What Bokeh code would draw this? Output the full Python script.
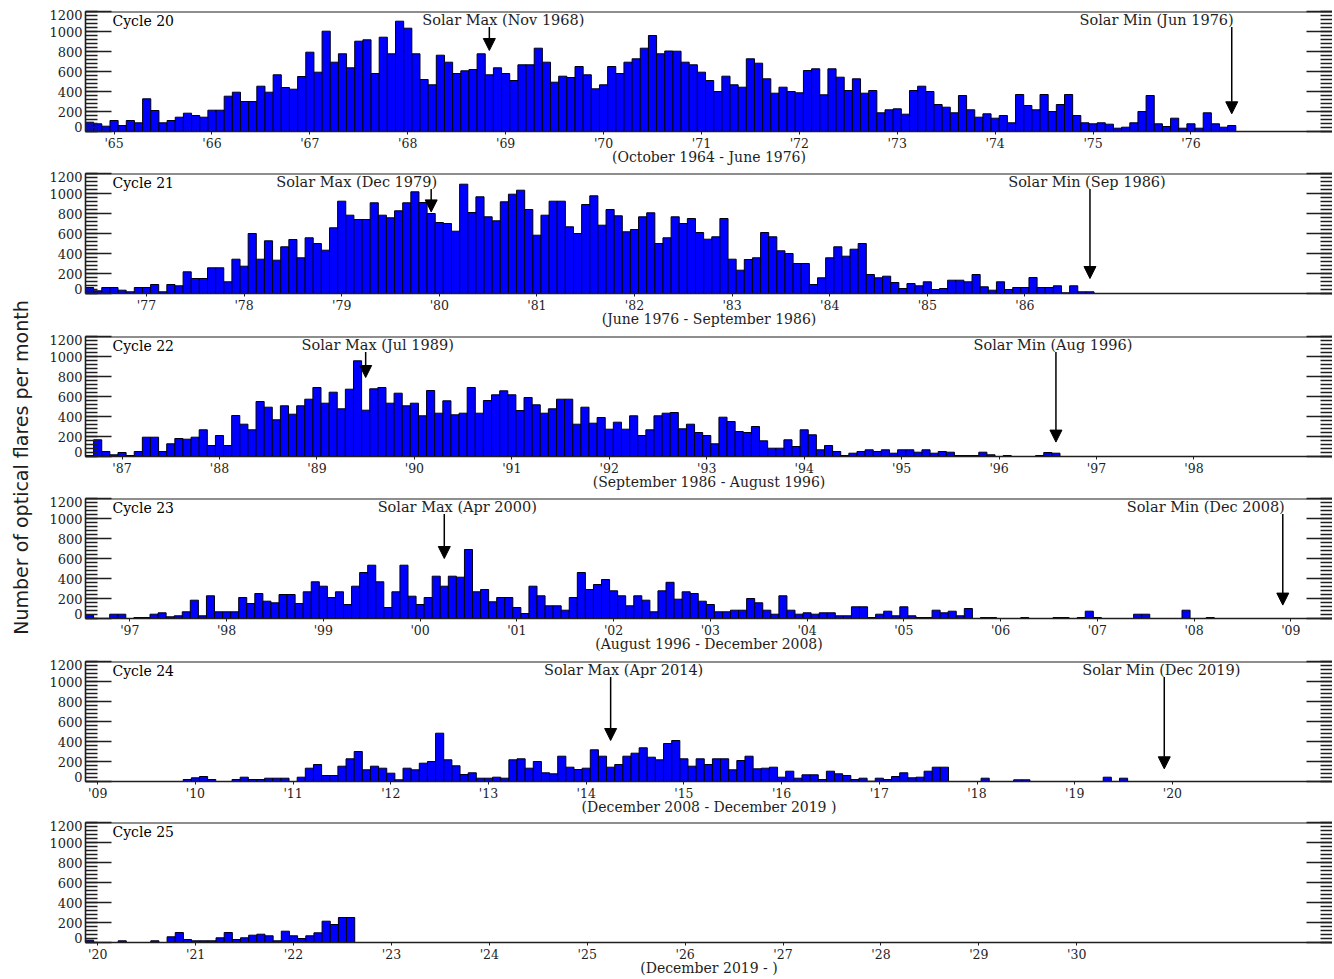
from math import pi

from bokeh.core.properties import value
from bokeh.embed import file_html
from bokeh.layouts import column, row
from bokeh.models import Arrow, FixedTicker, Label, LinearAxis, NormalHead, Range1d, Span
from bokeh.plotting import figure
from bokeh.resources import INLINE

# ---------------------------------------------------------------------------
# Monthly counts of optical flares, one list per solar cycle
# ---------------------------------------------------------------------------
cycle20 = [
    93, 77, 53, 110, 60, 110, 87, 327, 210, 87,
    110, 143, 183, 160, 143, 213, 213, 353, 393, 300,
    300, 453, 393, 567, 440, 423, 550, 793, 593, 1003,
    693, 777, 637, 903, 917, 580, 943, 777, 1103, 1033,
    777, 520, 467, 763, 693, 580, 607, 620, 777, 567,
    637, 580, 510, 667, 667, 833, 693, 493, 553, 540,
    650, 567, 427, 467, 650, 580, 693, 727, 833, 960,
    777, 805, 803, 693, 667, 593, 510, 400, 553, 467,
    443, 727, 683, 527, 383, 443, 400, 387, 610, 627,
    367, 627, 543, 410, 527, 383, 410, 187, 217, 227,
    173, 410, 453, 400, 270, 243, 187, 360, 217, 143,
    177, 133, 160, 87, 370, 260, 217, 370, 200, 270,
    370, 160, 87, 77, 87, 73, 33, 43, 87, 200,
    360, 77, 50, 133, 33, 77, 33, 187, 77, 43,
    60,
]
cycle21 = [
    60, 27, 60, 60, 33, 17, 60, 60, 90, 17,
    90, 77, 217, 150, 150, 257, 257, 117, 343, 273,
    600, 343, 527, 333, 467, 540, 357, 557, 500, 433,
    657, 923, 783, 740, 740, 907, 783, 757, 827, 907,
    1017, 910, 800, 710, 700, 623, 1093, 810, 967, 767,
    727, 917, 993, 1033, 840, 583, 783, 923, 923, 667,
    600, 890, 977, 683, 840, 777, 617, 640, 767, 807,
    500, 557, 767, 700, 750, 610, 543, 567, 750, 343,
    233, 340, 357, 610, 567, 427, 400, 300, 300, 90,
    157, 357, 467, 373, 443, 500, 190, 157, 173, 110,
    50, 100, 77, 117, 40, 50, 133, 133, 117, 190,
    67, 33, 117, 40, 60, 60, 160, 60, 60, 77,
    7, 77, 17, 17,
]
cycle22 = [
    10, 167, 50, 17, 40, 10, 50, 193, 193, 50,
    127, 180, 173, 193, 267, 110, 210, 110, 410, 323,
    267, 550, 493, 367, 507, 423, 507, 573, 690, 533,
    643, 477, 673, 957, 463, 677, 690, 533, 633, 507,
    533, 407, 660, 433, 557, 417, 433, 690, 433, 560,
    617, 657, 617, 460, 590, 517, 433, 477, 573, 573,
    323, 493, 333, 390, 273, 343, 273, 407, 210, 267,
    407, 433, 440, 277, 323, 240, 210, 127, 393, 350,
    250, 240, 300, 157, 83, 83, 167, 100, 267, 217,
    67, 110, 50, 10, 33, 50, 67, 50, 67, 33,
    67, 67, 43, 67, 33, 50, 43, 10, 10, 10,
    43, 17, 0, 10, 0, 0, 0, 10, 40, 33,
]
cycle23 = [
    33, 0, 0, 43, 43, 0, 10, 10, 43, 57,
    17, 27, 67, 183, 27, 227, 67, 67, 67, 210,
    150, 250, 173, 157, 240, 240, 150, 267, 367, 323,
    210, 267, 140, 323, 460, 533, 367, 110, 267, 533,
    223, 140, 210, 423, 323, 423, 413, 690, 267, 290,
    167, 210, 210, 110, 50, 323, 227, 127, 127, 83,
    210, 460, 290, 340, 390, 277, 227, 127, 227, 183,
    67, 277, 362, 193, 267, 250, 173, 140, 67, 67,
    83, 83, 200, 157, 83, 43, 227, 83, 43, 57,
    43, 57, 57, 27, 27, 117, 117, 10, 43, 73,
    27, 117, 27, 10, 10, 83, 57, 73, 27, 100,
    0, 10, 10, 0, 0, 0, 10, 0, 0, 0,
    10, 10, 0, 10, 73, 10, 0, 0, 0, 0,
    43, 43, 0, 0, 0, 0, 83, 0, 0, 10,
    0, 0, 0, 0, 0, 0, 0, 0, 0,
]
cycle24 = [
    0, 0, 0, 0, 0, 0, 0, 0, 0, 0,
    0, 0, 20, 37, 50, 20, 0, 0, 20, 43,
    20, 20, 33, 33, 33, 0, 43, 133, 170, 60,
    60, 153, 227, 300, 117, 153, 133, 83, 17, 133,
    117, 183, 200, 483, 217, 157, 70, 87, 33, 33,
    43, 33, 217, 227, 133, 200, 87, 77, 253, 143,
    120, 133, 317, 253, 143, 170, 253, 283, 337, 243,
    217, 380, 410, 227, 153, 227, 170, 227, 227, 117,
    210, 253, 127, 133, 143, 43, 103, 33, 67, 67,
    20, 103, 77, 60, 20, 33, 3, 33, 20, 50,
    87, 37, 43, 103, 143, 143, 0, 0, 0, 0,
    33, 0, 0, 0, 17, 17, 0, 0, 0, 0,
    0, 0, 0, 0, 0, 43, 0, 33, 0, 0,
    0, 0, 0,
]
cycle25 = [
    23, 0, 0, 0, 17, 0, 0, 0, 17, 0,
    57, 100, 30, 17, 17, 17, 47, 100, 30, 47,
    73, 83, 67, 17, 113, 67, 40, 67, 97, 213,
    180, 250, 250,
]

cycle_counts = [cycle20, cycle21, cycle22, cycle23, cycle24, cycle25]
cycle_names = ["Cycle 20", "Cycle 21", "Cycle 22", "Cycle 23", "Cycle 24", "Cycle 25"]
first_month = [(1964, 10), (1976, 6), (1986, 9), (1996, 8), (2008, 12), (2019, 12)]
period_labels = [
    "(October 1964 - June 1976)",
    "(June 1976 - September 1986)",
    "(September 1986 - August 1996)",
    "(August 1996 - December 2008)",
    "(December 2008 - December 2019 )",
    "(December 2019 - )",
]
year_ticks = [
    list(range(1965, 1977)),
    list(range(1977, 1987)),
    list(range(1987, 1999)),
    list(range(1997, 2010)),
    list(range(2009, 2021)),
    list(range(2020, 2031)),
]
max_labels = ["Solar Max (Nov 1968)", "Solar Max (Dec 1979)", "Solar Max (Jul 1989)",
              "Solar Max (Apr 2000)", "Solar Max (Apr 2014)"]
max_months = [(1968, 11), (1979, 12), (1989, 7), (2000, 4), (2014, 4)]
min_labels = ["Solar Min (Jun 1976)", "Solar Min (Sep 1986)", "Solar Min (Aug 1996)",
              "Solar Min (Dec 2008)", "Solar Min (Dec 2019)"]
min_months = [(1976, 6), (1986, 9), (1996, 8), (2008, 12), (2019, 12)]

y_major = [0, 200, 400, 600, 800, 1000, 1200]
y_minor = list(range(0, 1201, 40))

# ---------------------------------------------------------------------------
# Layout / styling
# ---------------------------------------------------------------------------
TITLE_W = 40
FRAME_W = 1247
FRAME_H = 120
LEFT_PAD = 45
px_per_year = [97.9, 97.6, 97.45, 96.75, 97.7, 97.9]
top_pad = [11, 4, 5, 4, 5, 3]
bottom_pad = [38, 38, 38, 38, 38, 37]

# arrow tips (count units) and label placement (alignment, pixel shift)
max_tip = [810, 816, 790, 600, 410]
min_tip = [177, 150, 144, 134, 127]
max_text = [("center", 14), ("right", 6), ("center", 12), ("center", 13), ("center", 13)]
min_text = [("right", 2), ("center", -3), ("center", -3), ("right", 2), ("center", -3)]

SERIF = "DejaVu Serif"
INK = "#1e1e1e"


def decimal_month(year, month):
    return year + (month - 1) / 12.0


def make_panel(k):
    counts = cycle_counts[k]
    y0, m0 = first_month[k]
    xs = [decimal_month(y0, m0) + i / 12.0 for i in range(len(counts))]
    x_start = decimal_month(y0, m0) - 1 / 24.0
    x_end = x_start + FRAME_W / px_per_year[k]

    p = figure(
        frame_width=FRAME_W, frame_height=FRAME_H,
        x_range=Range1d(x_start, x_end), y_range=Range1d(0, 1200),
        min_border_left=LEFT_PAD, min_border_right=0,
        min_border_top=top_pad[k], min_border_bottom=bottom_pad[k],
        x_axis_location=None, y_axis_location=None,
        toolbar_location=None, output_backend="svg",
        outline_line_color=None, background_fill_color="white",
        border_fill_color="white",
    )
    p.grid.visible = False

    p.vbar(x=xs, top=counts, bottom=0, width=1 / 12.0,
           fill_color="#0000ff", line_color="#000010", line_width=1)

    # frame: top rule
    p.add_layout(Span(location=1200, dimension="width", line_color=INK, line_width=2))

    # tick-only axes (their labels are never painted)
    tick_style = dict(
        ticker=FixedTicker(ticks=y_major, minor_ticks=y_minor),
        major_tick_in=26, major_tick_out=0, minor_tick_in=12, minor_tick_out=0,
        major_tick_line_color=INK, minor_tick_line_color=INK,
        major_tick_line_width=1.6, minor_tick_line_width=1.4,
        major_label_text_font_size="1px", major_label_text_color=None,
        major_label_standoff=0,
    )
    left_ticks = LinearAxis(axis_line_color=INK, axis_line_width=1.6, **tick_style)
    p.add_layout(left_ticks, "left")

    label_pos = [50, 200, 400, 600, 800, 1000, 1165]
    label_txt = {50: "0", 200: "200", 400: "400", 600: "600", 800: "800",
                 1000: "1000", 1165: "1200"}
    left_labels = LinearAxis(
        ticker=FixedTicker(ticks=label_pos, minor_ticks=[]),
        major_label_overrides=label_txt,
        axis_line_color=None, major_tick_line_color=None, minor_tick_line_color=None,
        major_tick_in=0, major_tick_out=0, minor_tick_in=0, minor_tick_out=0,
        major_label_standoff=3,
        major_label_text_font=SERIF, major_label_text_font_size="13px",
        major_label_text_color=INK,
    )
    p.add_layout(left_labels, "left")

    right_ticks = LinearAxis(axis_line_color=None, **tick_style)
    p.add_layout(right_ticks, "right")

    # time axis; the cycle's date span is its axis label
    years = year_ticks[k]
    xaxis = LinearAxis(
        ticker=FixedTicker(ticks=years, minor_ticks=[]),
        major_label_overrides={yr: "'%02d" % (yr % 100) for yr in years},
        axis_line_color=INK, axis_line_width=1.6,
        major_tick_in=0, major_tick_out=3, minor_tick_in=0, minor_tick_out=0,
        major_tick_line_color=INK,
        major_label_standoff=1,
        major_label_text_font=SERIF, major_label_text_font_size="12.5px",
        major_label_text_color=INK,
        axis_label=period_labels[k], axis_label_standoff=-5,
        axis_label_text_font=SERIF, axis_label_text_font_size="14px",
        axis_label_text_font_style="normal", axis_label_text_color=INK,
    )
    p.add_layout(xaxis, "below")

    p.add_layout(Label(
        x=x_start + 27 / px_per_year[k], y=1110, text=cycle_names[k],
        text_font=SERIF, text_font_size="14px", text_color="#000000",
        text_align="left", text_baseline="middle",
    ))

    if k < len(max_labels):
        for lbl, ym, tip, (align, dx) in (
            (max_labels[k], max_months[k], max_tip[k], max_text[k]),
            (min_labels[k], min_months[k], min_tip[k], min_text[k]),
        ):
            xm = decimal_month(*ym)
            p.add_layout(Arrow(
                x_start=xm, y_start=1045, x_end=xm, y_end=tip,
                line_color="#000000", line_width=1.5,
                end=NormalHead(size=12, fill_color="#000000", line_color="#000000"),
            ))
            p.add_layout(Label(
                x=xm, y=1115, x_offset=dx, text=lbl,
                text_font=SERIF, text_font_size="14.5px", text_color=INK,
                text_align=align, text_baseline="middle",
            ))
    return p


panels = [make_panel(k) for k in range(6)]

total_h = 979
title_fig = figure(
    width=TITLE_W, height=total_h, x_range=Range1d(0, 1), y_range=Range1d(0, total_h),
    min_border=0, x_axis_location=None, y_axis_location=None,
    toolbar_location=None, output_backend="svg", outline_line_color=None,
)
title_fig.grid.visible = False
title_fig.text(
    x=[0.52], y=[total_h - 467], text=["Number of optical flares per month"],
    angle=pi / 2, text_align="center", text_baseline="middle",
    text_font=value("DejaVu Sans"), text_font_size=value("19px"), text_color=INK,
)

layout = row(title_fig, column(*panels))
open("out.html", "w").write(file_html(layout, INLINE))
